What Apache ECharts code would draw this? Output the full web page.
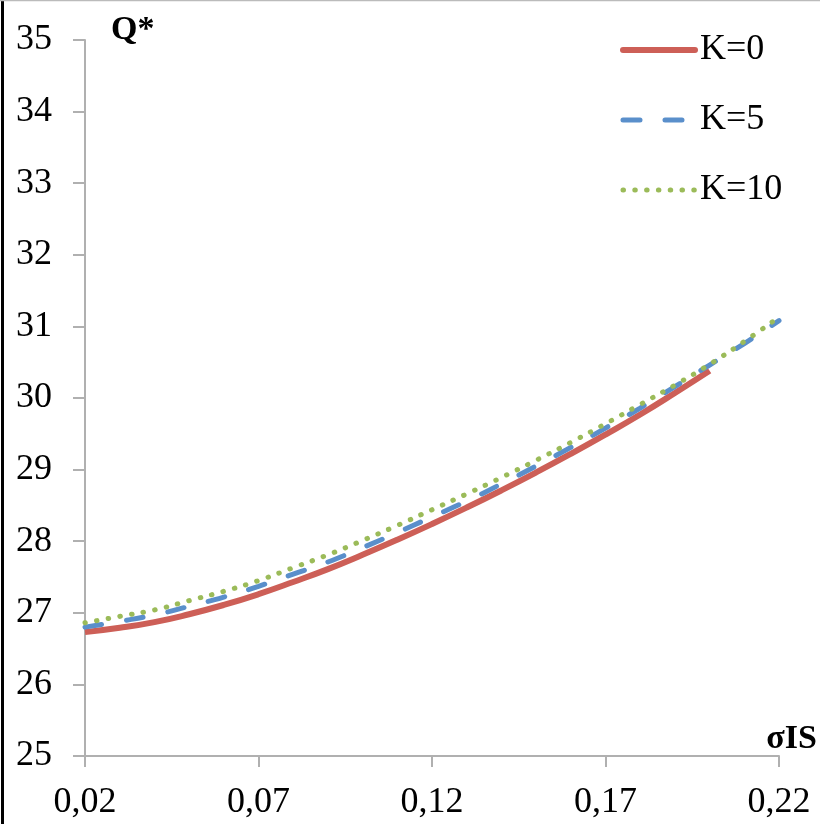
<!DOCTYPE html>
<html>
<head>
<meta charset="utf-8">
<script src="https://cdn.jsdelivr.net/npm/echarts@6/dist/echarts.min.js"></script>
<style>
  html, body { margin: 0; padding: 0; background: #fff; }
  #chart { width: 820px; height: 824px; }
</style>
</head>
<body>
<div id="chart"></div>
<script>
// sigma IS values on the x axis (0,02 ... 0,22)
const sigmaIS = ['0,02', '0,03', '0,04', '0,05', '0,06', '0,07', '0,08', '0,09', '0,10', '0,11',
  '0,12', '0,13', '0,14', '0,15', '0,16', '0,17', '0,18', '0,19', '0,20', '0,21', '0,22'];

// Q* for each K (K=0 stops at 0,20)
const qK0 = [26.73, 26.79, 26.87, 26.98, 27.11, 27.26, 27.43, 27.61, 27.81, 28.02,
  28.24, 28.47, 28.71, 28.96, 29.22, 29.49, 29.77, 30.07, 30.38];
const qK5 = [26.80, 26.88, 26.97, 27.09, 27.22, 27.37, 27.54, 27.71, 27.91, 28.12,
  28.34, 28.56, 28.80, 29.05, 29.31, 29.58, 29.86, 30.16, 30.46, 30.76, 31.08];
const qK10 = [26.86, 26.95, 27.04, 27.17, 27.30, 27.45, 27.63, 27.81, 28.01, 28.22,
  28.44, 28.66, 28.89, 29.13, 29.38, 29.64, 29.91, 30.18, 30.47, 30.79, 31.13];

const font = 'Liberation Serif';
const axisGray = '#b0b0b0';

const chart = echarts.init(document.getElementById('chart'));

const option = {
  animation: false,
  textStyle: { fontFamily: font },
  grid: { left: 85, right: 39, top: 40, bottom: 68 },
  legend: {
    orient: 'vertical',
    left: 615,
    top: 25,
    itemWidth: 72,
    itemHeight: 20,
    itemGap: 30,
    itemStyle: { opacity: 0 },
    lineStyle: { width: 5, cap: 'round' },
    textStyle: { fontFamily: font, fontSize: 36, color: '#000', lineHeight: 40 },
    data: [{ name: 'K=0', lineStyle: { width: 6 } }, 'K=5', 'K=10']
  },
  xAxis: {
    type: 'category',
    boundaryGap: false,
    data: sigmaIS,
    name: 'σIS',
    nameLocation: 'end',
    nameGap: 38,
    nameTextStyle: { fontFamily: font, fontSize: 34, fontWeight: 'bold', color: '#000',
      align: 'right', verticalAlign: 'bottom', padding: [0, 0, 0, 0] },
    axisLine: { lineStyle: { color: axisGray, width: 2 } },
    axisTick: { interval: 4, length: 11, lineStyle: { color: axisGray, width: 2 } },
    axisLabel: { interval: 4, margin: 29, fontFamily: font, fontSize: 36, color: '#000' },
    splitLine: { show: false }
  },
  yAxis: {
    type: 'value',
    min: 25,
    max: 35,
    interval: 1,
    name: 'Q*',
    nameLocation: 'end',
    nameGap: 10,
    nameTextStyle: { fontFamily: font, fontSize: 34, fontWeight: 'bold', color: '#000',
      align: 'left', verticalAlign: 'middle', padding: [0, 0, 0, 26] },
    axisLine: { show: true, lineStyle: { color: axisGray, width: 2 } },
    axisTick: { show: true, inside: false, length: 12, lineStyle: { color: axisGray, width: 2 } },
    axisLabel: { margin: 33, fontFamily: font, fontSize: 36, color: '#000' },
    splitLine: { show: false }
  },
  series: [
    {
      name: 'K=0', type: 'line', data: qK0, symbol: 'none', smooth: true,
      lineStyle: { color: '#cd5f57', width: 6 }, itemStyle: { color: '#cd5f57' }
    },
    {
      name: 'K=5', type: 'line', data: qK5, symbol: 'none', smooth: true,
      lineStyle: { color: '#5a8fcb', width: 5, type: [17, 25], cap: 'round' },
      itemStyle: { color: '#5a8fcb' }
    },
    {
      name: 'K=10', type: 'line', data: qK10, symbol: 'none', smooth: true,
      lineStyle: { color: '#9bbb59', width: 5, type: [0.5, 11.3], cap: 'round' },
      itemStyle: { color: '#9bbb59' }
    }
  ],
  graphic: [
    // frame edges visible in the crop
    { type: 'line', shape: { x1: 2.5, y1: 0, x2: 2.5, y2: 824 }, style: { stroke: '#000', lineWidth: 3 } },
    { type: 'line', shape: { x1: 0, y1: 0.5, x2: 820, y2: 0.5 }, style: { stroke: '#bbbbbb', lineWidth: 1.5 } }
  ]
};

chart.setOption(option);
</script>
</body>
</html>
